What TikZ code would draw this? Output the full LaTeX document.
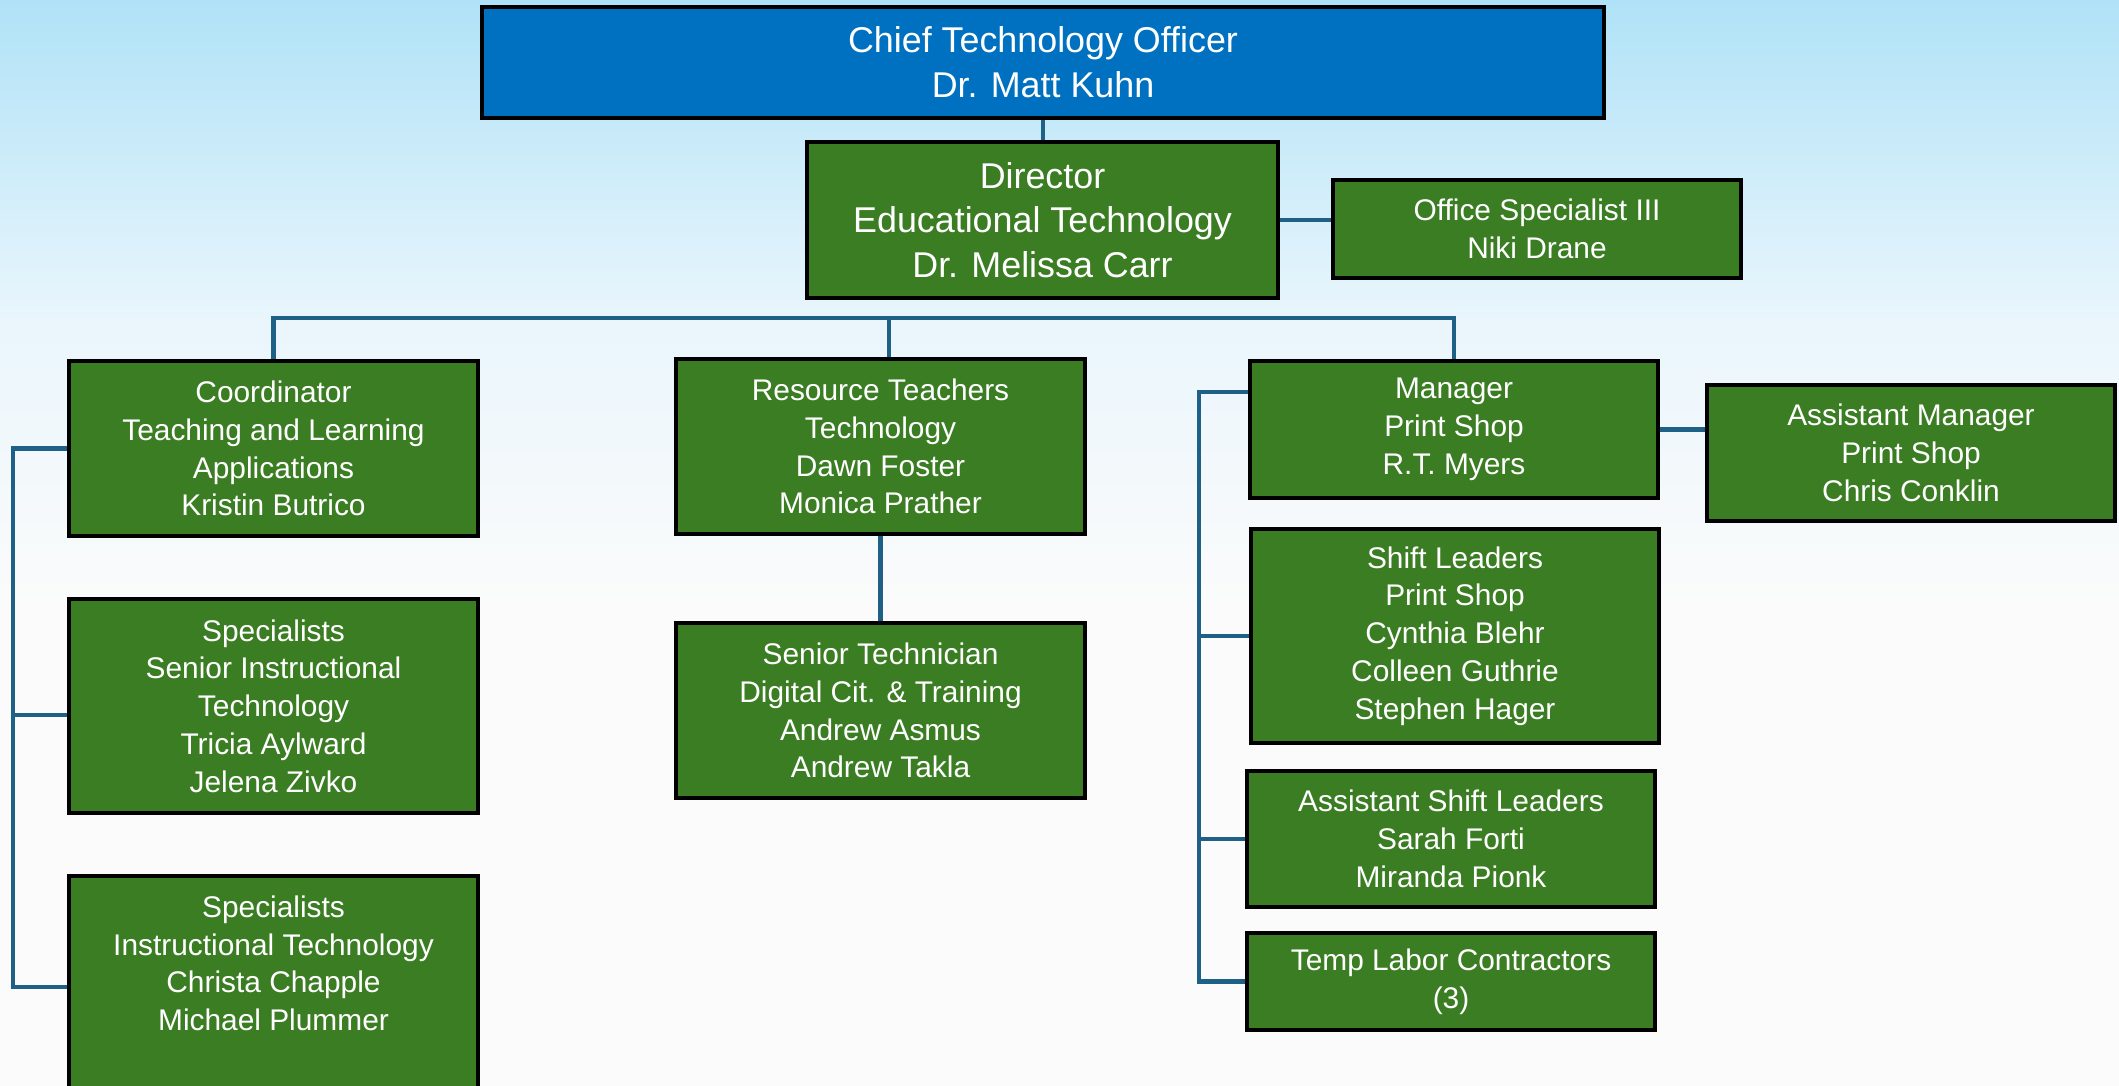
\documentclass[tikz,border=0pt]{standalone}
\usepackage{fontspec}
\setmainfont{Liberation Sans}
\usepackage{xcolor}
\usepackage{tikz}
\usetikzlibrary{arrows.meta,positioning,calc}

\definecolor{ctoblue}{RGB}{0,112,192}
\definecolor{unitgreen}{RGB}{59,125,35}
\definecolor{linkblue}{RGB}{31,96,135}
\definecolor{bgtop}{RGB}{176,226,247}
\definecolor{bgmid}{RGB}{234,246,252}
\definecolor{bgbot}{RGB}{251,251,251}

% path is mapped onto 25bp..75bp of the shading
\pgfdeclareverticalshading{bgfade}{100bp}{color(0bp)=(bgbot); color(47bp)=(bgbot); color(60bp)=(bgmid); color(75bp)=(bgtop); color(100bp)=(bgtop)}

\newcommand{\bigtxt}{\fontsize{10.2}{12.7}\selectfont}
\newcommand{\smalltxt}{\fontsize{8.5}{10.75}\selectfont}

\begin{document}
\begin{tikzpicture}[
    unit/.style={draw=black, line width=1pt, fill=unitgreen, text=white, align=center, font=\smalltxt, inner sep=0pt},
    head/.style={unit, font=\bigtxt},
    conn/.style={draw=linkblue, line width=1.2pt}
  ]
  % Background
  \useasboundingbox (0,0) rectangle (21.19,10.86);
  \shade[shading=bgfade] (0,0) rectangle (21.19,10.86);

  % Top of the chart
  \node[head, fill=ctoblue, minimum width=11.22cm, minimum height=1.11cm] (cto) at (10.43,10.235) {Chief Technology Officer\\Dr. Matt Kuhn};
  \node[head, minimum width=4.71cm, minimum height=1.56cm] (dir) at (10.425,8.66) {Director\\Educational Technology\\Dr. Melissa Carr};
  \node[unit, minimum width=4.08cm, minimum height=0.98cm] (office) at (15.37,8.57) {Office Specialist III\\Niki Drane};

  % Left column
  \node[unit, minimum width=4.09cm, minimum height=1.75cm] (coord) at (2.735,6.375) {Coordinator\\Teaching and Learning\\Applications\\Kristin Butrico};
  \node[unit, minimum width=4.09cm, minimum height=2.14cm] (spsen) at (2.735,3.80) {Specialists\\Senior Instructional\\Technology\\Tricia Aylward\\Jelena Zivko};
  \node[unit, minimum width=4.09cm, inner ysep=0.2cm, text depth=2.2cm, anchor=north] (spit) at (2.735,2.12) {Specialists\\Instructional Technology\\Christa Chapple\\Michael Plummer};

  % Middle column
  \node[unit, minimum width=4.09cm, minimum height=1.75cm] (rt) at (8.805,6.395) {Resource Teachers\\Technology\\Dawn Foster\\Monica Prather};
  \node[unit, minimum width=4.09cm, minimum height=1.75cm] (stech) at (8.805,3.755) {Senior Technician\\Digital Cit. \& Training\\Andrew Asmus\\Andrew Takla};

  % Right column (print shop)
  \node[unit, minimum width=4.08cm, minimum height=1.37cm] (mgr) at (14.54,6.565) {Manager\\Print Shop\\R.T. Myers};
  \node[unit, minimum width=4.08cm, minimum height=1.36cm] (amgr) at (19.11,6.33) {Assistant Manager\\Print Shop\\Chris Conklin};
  \node[unit, minimum width=4.08cm, minimum height=2.14cm] (shift) at (14.55,4.50) {Shift Leaders\\Print Shop\\Cynthia Blehr\\Colleen Guthrie\\Stephen Hager};
  \node[unit, minimum width=4.08cm, minimum height=1.36cm] (ashift) at (14.51,2.47) {Assistant Shift Leaders\\Sarah Forti\\Miranda Pionk};
  \node[unit, minimum width=4.08cm, minimum height=0.97cm] (temp) at (14.51,1.045) {Temp Labor Contractors\\(3)};

  % Connectors
  \coordinate (bus) at (0,7.68);
  \coordinate (rtdrop) at (8.89,7.68);
  \coordinate (lbar) at (0.13,0);
  \coordinate (lsen) at (0,3.71);
  \coordinate (lit) at (0,0.99);
  \coordinate (rbar) at (11.99,6.94);

  \draw[conn] (cto.south) -- (cto.south |- dir.north);
  \draw[conn] (dir.east) -- (dir.east -| office.west);
  \draw[conn] (coord.north) -- (coord.north |- bus) -- (mgr.north |- bus) -- (mgr.north);
  \draw[conn] (rtdrop) -- (rtdrop |- rt.north);
  \draw[conn] (rt.south) -- (stech.north);

  \draw[conn] (coord.west) -- (coord.west -| lbar) |- (lit -| spit.west);
  \draw[conn] (lsen -| spsen.west) -- (lsen -| lbar);

  \draw[conn] (rbar -| mgr.west) -- (rbar) |- (temp.west);
  \draw[conn] (shift.west) -- (shift.west -| rbar);
  \draw[conn] (ashift.west) -- (ashift.west -| rbar);
  \draw[conn] (mgr.east) -- (mgr.east -| amgr.west);
\end{tikzpicture}
\end{document}
